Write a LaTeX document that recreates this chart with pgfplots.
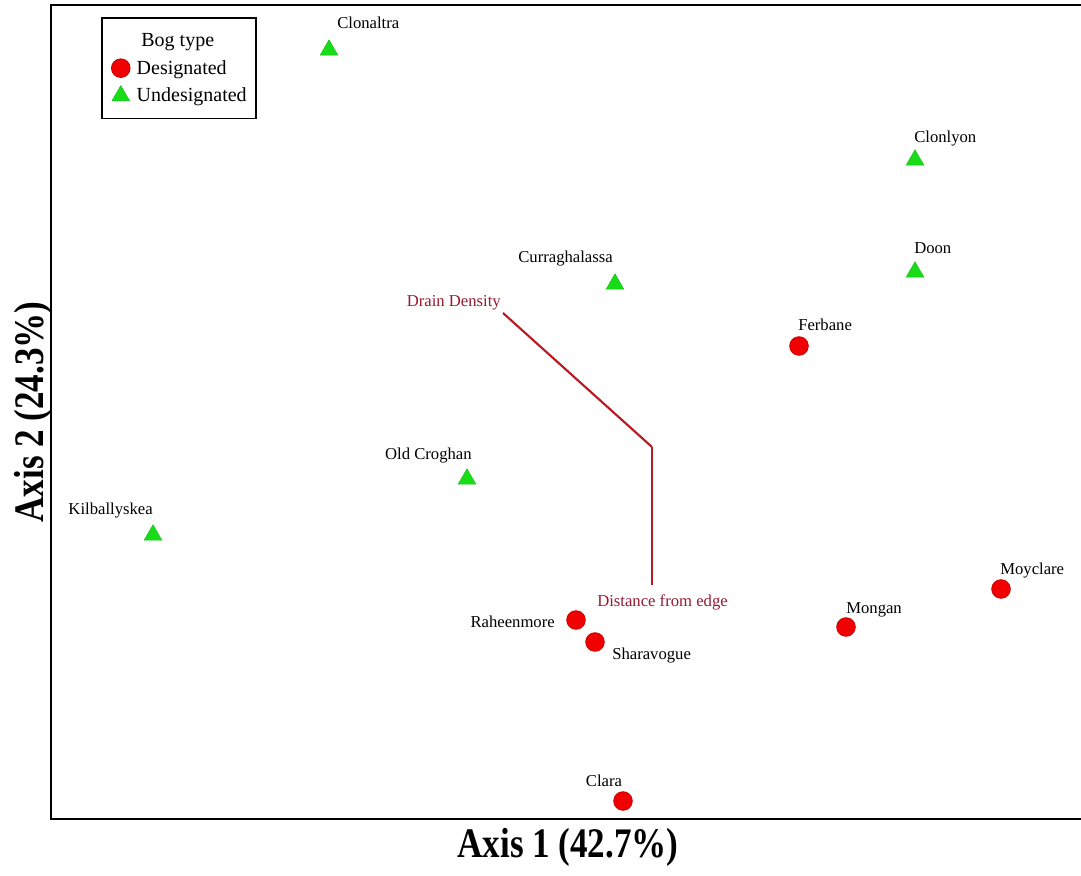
\documentclass[border=0pt]{standalone}
\usepackage{fontspec}
\setmainfont{Liberation Serif}
\usepackage{graphicx}
\usepackage{pgfplots}
\pgfplotsset{compat=1.18}

% a legend image that is just the plot's mark
\pgfplotsset{dotlegend/.style={legend image code/.code={\draw[##1] plot coordinates {(0pt,0pt)};}}}

% ordination scores of the sites (axis 1, axis 2)
\pgfplotstableread{
x     y
1.47  1.01
3.49  -1.42
1.94  -1.80
-0.76 -1.73
-0.57 -1.95
-0.29 -3.54
}\designated
\pgfplotstableread{
x     y
-3.23 3.97
2.63  2.87
2.63  1.75
-0.37 1.63
-1.85 -0.32
-4.99 -0.88
}\undesignated
% environmental vectors from the origin
\pgfplotstableread{
x     y
0     0
-1.49 1.34
}\draindensity
\pgfplotstableread{
x     y
0     0
0     -1.38
}\distedge

\definecolor{desred}{RGB}{240,0,0}
\definecolor{desedge}{RGB}{200,0,0}
\definecolor{undgreen}{RGB}{25,220,25}
\definecolor{undedge}{RGB}{20,195,20}
\definecolor{vecred}{RGB}{185,25,35}
\definecolor{veclabel}{RGB}{150,25,45}

\newcommand{\sitefont}{\fontsize{12.5}{14}\selectfont}

\begin{document}
\begin{tikzpicture}
\begin{axis}[
  scale only axis,
  width=775.5pt, height=610.5pt,
  xmin=-6.01, xmax=4.33, ymin=-3.72, ymax=4.42,
  xtick=\empty, ytick=\empty,
  axis line style={line width=2pt},
  clip=false,
  xlabel={\scalebox{1}[1.2]{\fontsize{26.3}{30}\selectfont\bfseries Axis 1 (42.7\%)}},
  ylabel={\scalebox{1}[1.2]{\fontsize{26.3}{30}\selectfont\bfseries Axis 2 (24.3\%)}},
  xlabel style={at={(axis description cs:0.5,-0.0479)}, anchor=base, inner sep=0pt},
  ylabel style={at={(axis description cs:-0.0068,0.5)}, anchor=base, inner sep=0pt},
  legend style={
    at={(axis description cs:0.0484,0.9853)}, anchor=north west,
    draw=black, line width=1.2pt,
    font=\fontsize{15}{18}\selectfont,
    inner xsep=7.2pt, inner ysep=9.7pt,
    row sep=5.6pt,
    nodes={inner sep=0pt, text height=12pt, text depth=3pt},
    /tikz/every odd column/.append style={column sep=4.95pt},
  },
  legend cell align=left,
]
\addlegendimage{empty legend}
\addlegendentry{\hspace{3.5pt}Bog type}

\addplot[only marks, mark=*, mark size=7pt,
  mark options={fill=desred, draw=desedge, line width=0.6pt},
  dotlegend]
  table {\designated};
\addlegendentry{Designated}

\addplot[only marks, mark=triangle*, mark size=7.6pt,
  mark options={fill=undgreen, draw=undedge, line width=0.4pt},
  dotlegend]
  table {\undesignated};
\addlegendentry{Undesignated}

\addplot[forget plot, vecred, line width=1.6pt] table {\draindensity};
\addplot[forget plot, vecred, line width=1.6pt] table {\distedge};

% site names
\begin{scope}[every node/.style={inner sep=0pt, font=\sitefont, text=black}]
\node[anchor=base west] at (axis cs:-3.15,4.18) {Clonaltra};
\node[anchor=base west] at (axis cs:2.62,3.04) {Clonlyon};
\node[anchor=base west] at (axis cs:2.62,1.93) {Doon};
\node[anchor=base east] at (axis cs:-0.39,1.84) {Curraghalassa};
\node[anchor=base west] at (axis cs:1.46,1.16) {Ferbane};
\node[anchor=base east] at (axis cs:-1.80,-0.13) {Old Croghan};
\node[anchor=base east] at (axis cs:-4.99,-0.68) {Kilballyskea};
\node[anchor=base west] at (axis cs:3.48,-1.28) {Moyclare};
\node[anchor=base west] at (axis cs:1.94,-1.66) {Mongan};
\node[anchor=base east] at (axis cs:-0.97,-1.80) {Raheenmore};
\node[anchor=base west] at (axis cs:-0.40,-2.12) {Sharavogue};
\node[anchor=base] at (axis cs:-0.48,-3.39) {Clara};
\end{scope}
% vector names
\begin{scope}[every node/.style={inner sep=0pt, font=\sitefont, text=veclabel}]
\node[anchor=base east] at (axis cs:-1.51,1.40) {Drain Density};
\node[anchor=base west] at (axis cs:-0.55,-1.59) {Distance from edge};
\end{scope}

\coordinate (bbsw) at (axis cs:-6.52,-4.28);
\coordinate (bbne) at (axis cs:4.29,4.47);
\end{axis}
\pgfresetboundingbox
\useasboundingbox (bbsw) rectangle (bbne);
\end{tikzpicture}
\end{document}
